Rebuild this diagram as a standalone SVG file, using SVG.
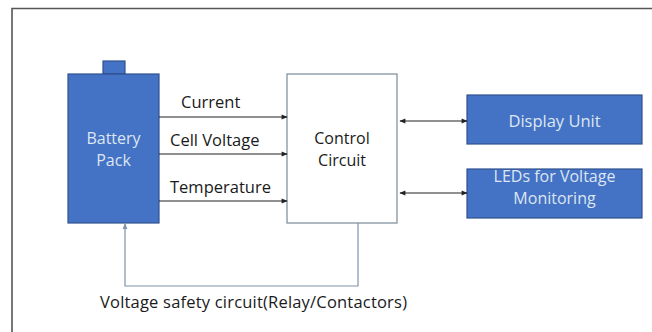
<svg xmlns="http://www.w3.org/2000/svg" width="652" height="332" viewBox="0 0 652 332">
<defs>
<style>
.t{font-family:"Open Sans","Liberation Sans",Arial,sans-serif;font-size:16.5px;fill:#1a1a1a}
.w{font-family:"Open Sans","Liberation Sans",Arial,sans-serif;font-size:16.5px;fill:#dde6f2}
.s{font-size:16px}
.blue{fill:#4472c4;stroke:#2f528f;stroke-width:1.2}
.ln{stroke:#222;stroke-width:1.1;fill:none}
.fb{stroke:#7f93aa;stroke-width:1.2;fill:none}
</style>
<marker id="ah" viewBox="0 0 10 10" refX="9" refY="5" markerWidth="7" markerHeight="6" orient="auto-start-reverse" markerUnits="userSpaceOnUse">
<path d="M0,1 L10,5 L0,9 Z" fill="#222"/>
</marker>
<marker id="ahb" viewBox="0 0 10 10" refX="9" refY="5" markerWidth="7" markerHeight="6" orient="auto" markerUnits="userSpaceOnUse">
<path d="M0,1 L10,5 L0,9 Z" fill="#7f93aa"/>
</marker>
</defs>
<rect width="652" height="332" fill="#fff"/>
<path d="M12,332 V8.5 H652" fill="none" stroke="#555" stroke-width="1.6"/>
<g id="battery">
<rect class="blue" x="103" y="61" width="22" height="13"/>
<rect class="blue" x="68" y="74" width="91" height="149"/>
<text class="w s" x="113.5" y="144" text-anchor="middle">Battery</text>
<text class="w s" x="113.5" y="166" text-anchor="middle">Pack</text>
</g>
<g id="control">
<rect x="287" y="74" width="110" height="149" fill="#fff" stroke="#7a8a99" stroke-width="1.2"/>
<text class="t s" x="342" y="144" text-anchor="middle">Control</text>
<text class="t s" x="342" y="166" text-anchor="middle">Circuit</text>
</g>
<g id="display">
<rect class="blue" x="467" y="95" width="175" height="49"/>
<text class="w" x="554.5" y="127" text-anchor="middle">Display Unit</text>
</g>
<g id="leds">
<rect class="blue" x="467" y="169" width="175" height="49"/>
<text class="w s" x="554.5" y="181.5" text-anchor="middle">LEDs for Voltage</text>
<text class="w s" x="554.5" y="203.5" text-anchor="middle">Monitoring</text>
</g>
<g id="connectors">
<line class="ln" x1="159" y1="117" x2="287" y2="117" marker-end="url(#ah)"/>
<line class="ln" x1="159" y1="154" x2="287" y2="154" marker-end="url(#ah)"/>
<line class="ln" x1="159" y1="201" x2="287" y2="201" marker-end="url(#ah)"/>
<line class="ln" x1="400" y1="121" x2="467" y2="121" marker-start="url(#ah)" marker-end="url(#ah)"/>
<line class="ln" x1="400" y1="193" x2="467" y2="193" marker-start="url(#ah)" marker-end="url(#ah)"/>
<path class="fb" d="M358,223 V286 H125 V223.5" marker-end="url(#ahb)"/>
<text class="t" x="181" y="108">Current</text>
<text class="t" x="170" y="146">Cell Voltage</text>
<text class="t" x="170" y="193">Temperature</text>
<text class="t" x="100" y="308" textLength="307">Voltage safety circuit(Relay/Contactors)</text>
</g>
</svg>
